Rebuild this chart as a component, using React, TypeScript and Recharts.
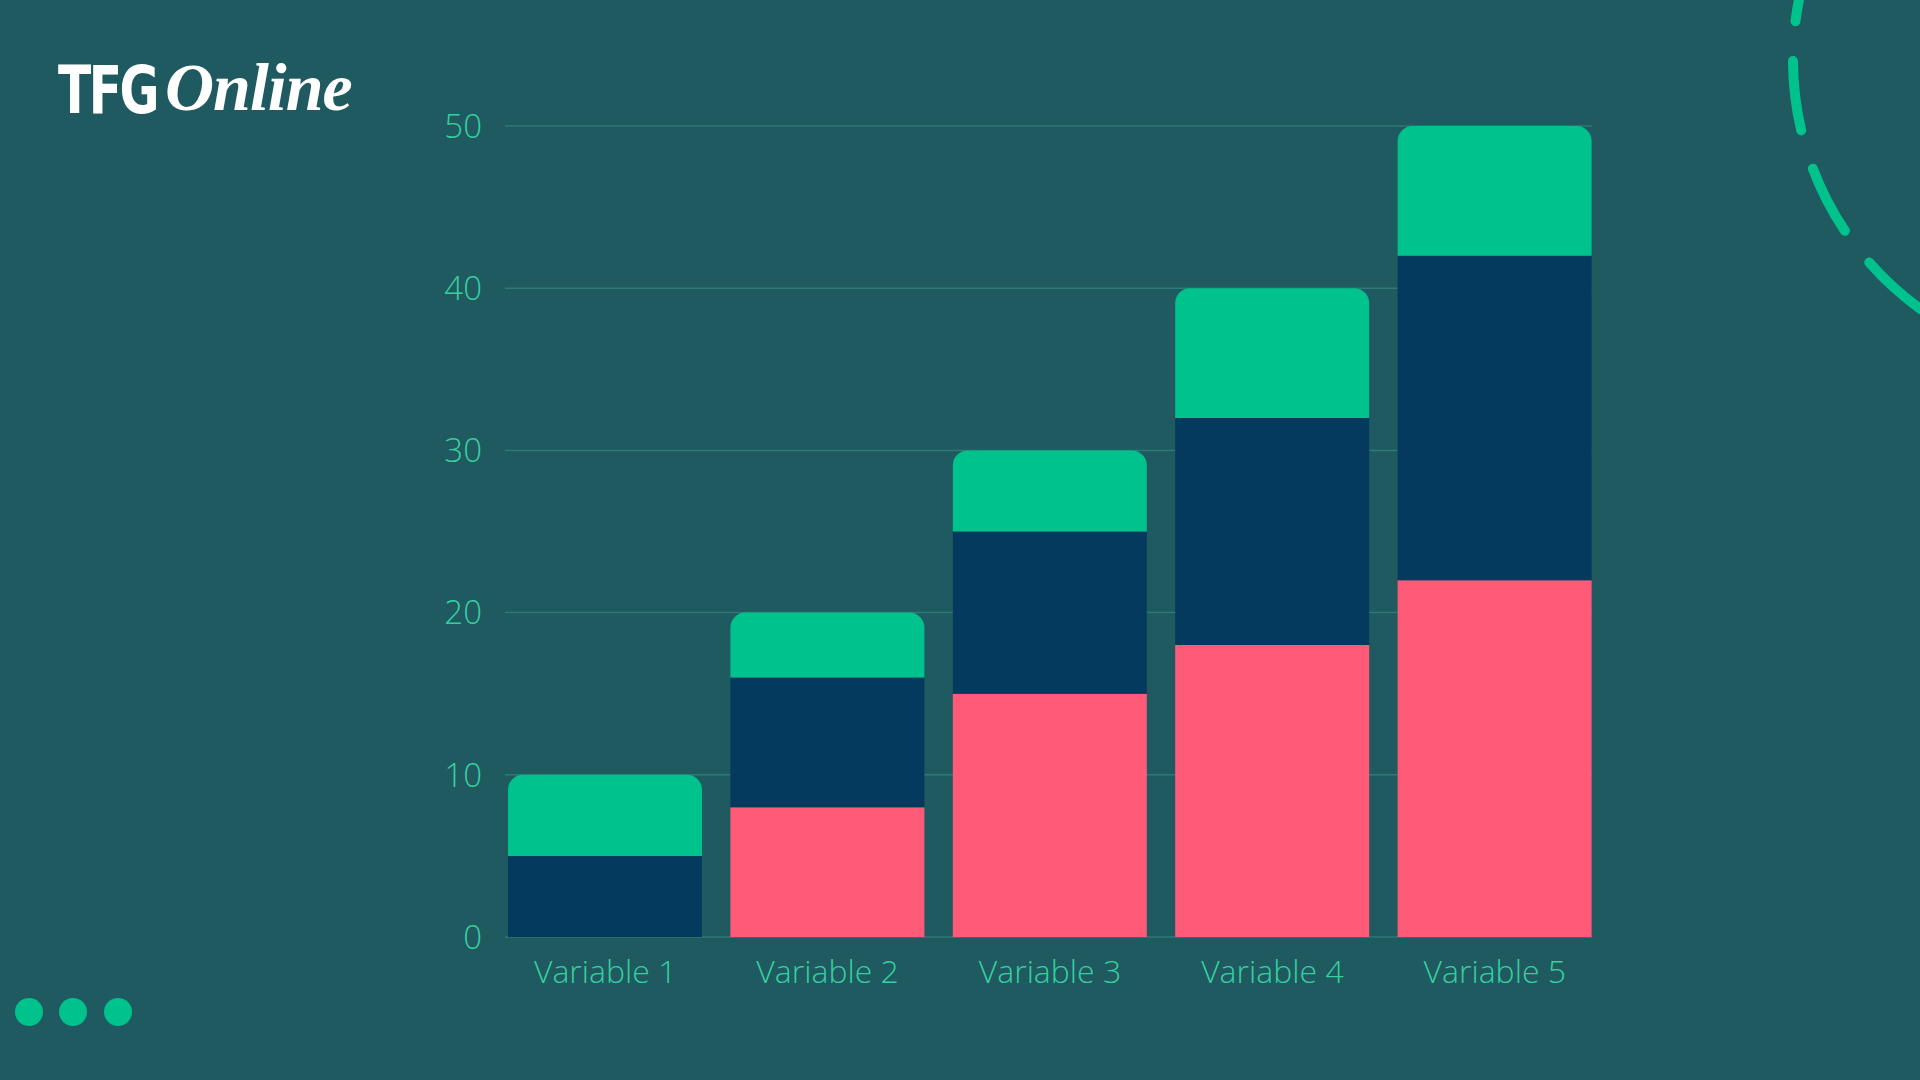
import { BarChart, Bar, XAxis, YAxis, CartesianGrid } from 'recharts'

const categories = ['Variable 1', 'Variable 2', 'Variable 3', 'Variable 4', 'Variable 5']
const serie1 = [0, 8, 15, 18, 22]
const serie2 = [5, 8, 10, 14, 20]
const serie3 = [5, 4, 5, 8, 8]
const yTicks = [0, 10, 20, 30, 40, 50]

const data = categories.map((name, i) => ({
  name,
  s1: serie1[i],
  s2: serie2[i],
  s3: serie3[i],
}))

const BG = '#1e5a5f'
const TEXT = '#36cfa0'
const font = '"Open Sans", sans-serif'

export default function App() {
  return (
    <div
      style={{
        position: 'absolute',
        left: 0,
        top: 0,
        width: 1920,
        height: 1080,
        background: BG,
        overflow: 'hidden',
        fontFamily: font,
      }}
    >
      {/* logo */}
      <div style={{ position: 'absolute', left: 58, top: 52, color: '#fff', whiteSpace: 'nowrap', height: 80 }}>
        <span
          style={{
            display: 'inline-block',
            fontFamily: '"DejaVu Sans Condensed", "DejaVu Sans", sans-serif',
            fontWeight: 700,
            fontSize: 66,
            letterSpacing: -3,
            transform: 'scaleX(0.82)',
            transformOrigin: 'left center',
            verticalAlign: 'middle',
          }}
        >
          TFG
        </span>
        <span
          style={{
            position: 'absolute',
            left: 107,
            top: -4,
            fontFamily: '"Liberation Serif", serif',
            fontStyle: 'italic',
            fontWeight: 700,
            fontSize: 68,
            letterSpacing: -1,
          }}
        >
          Online
        </span>
      </div>

      {/* decorations */}
      <svg width={1920} height={1080} style={{ position: 'absolute', left: 0, top: 0 }}>
        <circle
          cx={2100}
          cy={60}
          r={307}
          fill="none"
          stroke="#00c28d"
          strokeWidth={10}
          strokeLinecap="round"
          strokeDasharray="70 40"
          strokeDashoffset={-13}
        />
        <circle cx={29} cy={1012} r={14} fill="#00c28d" />
        <circle cx={73} cy={1012} r={14} fill="#00c28d" />
        <circle cx={118} cy={1012} r={14} fill="#00c28d" />
      </svg>

      <div style={{ position: 'absolute', left: 0, top: 0 }}>
        <BarChart
          width={1920}
          height={1080}
          data={data}
          margin={{ top: 126, right: 328, bottom: 83, left: 425 }}
          barSize={194}
        >
          <CartesianGrid vertical={false} stroke="#2e7a77" strokeWidth={1.5} />
          <XAxis
            dataKey="name"
            axisLine={false}
            tickLine={false}
            tickSize={0}
            tickMargin={23}
            height={60}
            padding={{ left: -11, right: -14 }}
            tick={{ fill: TEXT, fontSize: 32, fontFamily: font, fontWeight: 300 }}
          />
          <YAxis
            domain={[0, 50]}
            ticks={yTicks}
            width={80}
            axisLine={false}
            tickLine={false}
            tickSize={0}
            tickMargin={23}
            tick={{ fill: TEXT, fontSize: 33, fontFamily: font, fontWeight: 300 }}
          />
          <Bar dataKey="s1" stackId="a" fill="#ff5a78" isAnimationActive={false} />
          <Bar dataKey="s2" stackId="a" fill="#053a5f" isAnimationActive={false} />
          <Bar dataKey="s3" stackId="a" fill="#00c28d" radius={[15, 15, 0, 0]} isAnimationActive={false} />
        </BarChart>
      </div>
    </div>
  )
}
